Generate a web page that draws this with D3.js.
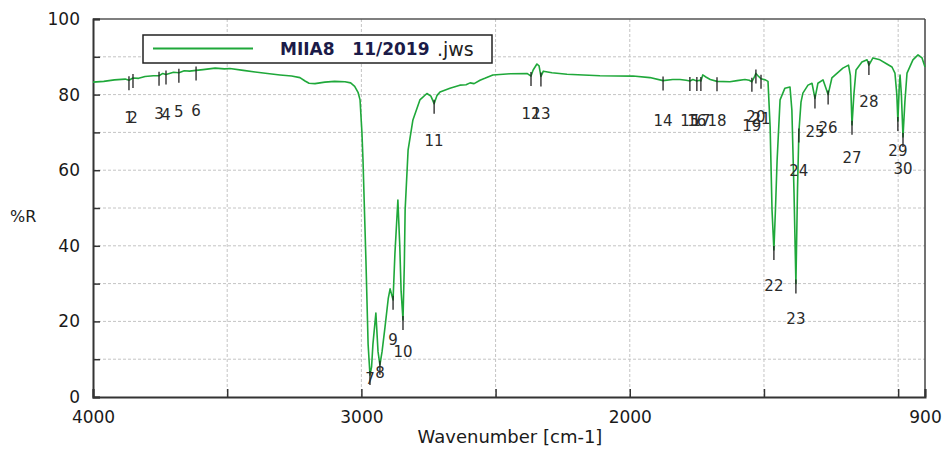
<!DOCTYPE html>
<html>
<head>
<meta charset="utf-8">
<script src="https://cdn.jsdelivr.net/npm/d3@7"></script>
<style>
  body { margin: 0; background: #fff; }
  text { font-family: "DejaVu Sans", sans-serif; }
</style>
</head>
<body>
<div id="chart"></div>
<script>
// spectrum: wavenumber [cm-1] and %R
const wavenumbers = [4000,3960,3920,3880,3866,3851,3830,3806,3775,3754,3740,3728,3700,3680,3660,3640,3616,3590,3545,3510,3490,3440,3396,3350,3303,3260,3229,3210,3195,3173,3136,3100,3061,3040,3025,3012,3005,2998,2994,2988,2983,2975,2968,2962,2957,2946,2938,2931,2923,2912,2900,2893,2882,2875,2864,2857,2852,2845,2840,2837,2826,2808,2782,2756,2741,2729,2718,2707,2670,2633,2610,2595,2580,2558,2540,2510,2446,2383,2368,2360,2346,2338,2331,2322,2290,2234,2111,1988,1925,1876,1840,1813,1790,1776,1765,1750,1740,1735,1728,1715,1700,1675,1627,1600,1571,1555,1545,1536,1530,1520,1511,1495,1485,1477,1470,1463,1457,1451,1440,1422,1403,1396,1388,1381,1375,1370,1362,1355,1336,1321,1310,1299,1280,1261,1247,1206,1185,1178,1172,1165,1157,1135,1116,1109,1094,1068,1042,1023,1012,1005,1001,996,993,988,982,975,967,945,926,911,900];
const reflect = [83.3,83.5,83.9,84.1,83.8,84.4,84.3,84.8,85.0,85.0,85.6,85.3,85.9,85.8,86.3,86.2,86.4,86.6,87.0,86.8,86.9,86.4,86.0,85.6,85.2,84.9,84.5,83.6,83.0,82.9,83.3,83.5,83.4,83.1,82.2,80.5,78.6,70,62.7,48,36,14,5.8,8,14,22.2,12,8.5,12,18.5,26,28.6,25.7,38,52.1,40,28,20.4,35,49.5,65.3,73.3,78.6,80.3,79.6,77.6,79.8,80.7,81.7,82.5,82.6,83.1,82.9,83.8,84.3,85.2,85.5,85.6,84.9,86.5,88.1,87.6,84.8,86.2,85.8,85.4,85.0,84.9,84.5,83.7,84.0,84.0,83.8,83.6,84.0,83.6,83.8,83.6,85.2,84.6,84.0,83.5,83.4,83.7,84.0,83.8,83.4,84.6,85.6,84.8,84.2,83.9,83.5,71.4,49.5,38.9,50,62.7,78.6,81.7,82.0,75.9,54,30,55,70,78,80.4,82.5,83,79,83,83.9,80,84.4,87,87.8,85,72,80,86.5,88.6,89.2,87.8,89.7,89.2,88.1,87.3,85.7,80,73,82,85.2,80,68.8,78,85.7,89.2,90.5,89.7,87.3];

// picked peaks: position and where the number sits (%R)
const peakWn = [3866,3851,3754,3728,3680,3616,2968,2931,2882,2845,2729,2368,2331,1876,1776,1750,1735,1675,1545,1530,1511,1463,1381,1370,1310,1261,1172,1109,1001,982];
const peakLabelR = [74.1,74.1,75.1,74.9,75.7,75.9,5.0,6.6,15.3,12.2,68.0,75.1,75.1,73.3,73.3,73.3,73.3,73.3,72.0,74.3,73.8,29.6,20.9,60.1,70.4,71.4,63.5,78.3,65.3,60.6];

const xTicks = [4000,3500,3000,2500,2000,1500,1000,900];
const xLabels = [4000,3000,2000,900];
const xGrid = [3500,3000,2500,2000,1500,1000];
const yTicks = [0,10,20,30,40,50,60,70,80,90,100];
const yLabels = [0,20,40,60,80,100];

const width = 946, height = 451;
const svg = d3.select('#chart').append('svg').attr('width', width).attr('height', height);

const x = d3.scaleLinear().domain([4000, 900]).range([93, 925]);
const y = d3.scaleLinear().domain([0, 100]).range([397, 19]);

// grid
svg.append('g').selectAll('line').data(xGrid).enter().append('line')
    .attr('x1', d => x(d)).attr('x2', d => x(d)).attr('y1', y(0)).attr('y2', y(100))
    .attr('stroke', '#c4c4c4').attr('stroke-dasharray', '3,2');
svg.append('g').selectAll('line').data(yTicks.slice(1, -1)).enter().append('line')
    .attr('x1', x(4000)).attr('x2', x(900)).attr('y1', d => y(d)).attr('y2', d => y(d))
    .attr('stroke', '#c4c4c4').attr('stroke-dasharray', '3,2');

// frame
svg.append('line').attr('x1', x(4000)).attr('x2', x(900)).attr('y1', y(100)).attr('y2', y(100))
    .attr('stroke', '#555').attr('stroke-width', 1.3);
svg.append('line').attr('x1', x(900)).attr('x2', x(900)).attr('y1', y(100)).attr('y2', y(0))
    .attr('stroke', '#444').attr('stroke-width', 1.5);

// axes, ticks inward
const xAxis = svg.append('g').attr('transform', `translate(0,${y(0)})`)
    .call(d3.axisBottom(x).tickValues(xTicks).tickSize(-8).tickPadding(14)
        .tickFormat(d => xLabels.includes(d) ? d : ''));
const yAxis = svg.append('g').attr('transform', `translate(${x(4000)},0)`)
    .call(d3.axisLeft(y).tickValues(yTicks).tickSize(-7).tickPadding(13)
        .tickFormat(d => yLabels.includes(d) ? d : ''));
[xAxis, yAxis].forEach(a => {
    a.select('.domain').attr('stroke', '#333').attr('stroke-width', 2);
    a.selectAll('.tick line').attr('stroke', '#333').attr('stroke-width', 1.5);
    a.selectAll('.tick text').attr('fill', '#1a1a1a').style('font-size', '17px');
});

svg.append('text').attr('x', 510).attr('y', 443).attr('text-anchor', 'middle')
    .attr('fill', '#1a1a1a').style('font-size', '18px').text('Wavenumber [cm-1]');
svg.append('text').attr('x', 10).attr('y', 222)
    .attr('fill', '#1a1a1a').style('font-size', '16px').text('%R');

// spectrum
const pts = wavenumbers.map((w, i) => [w, reflect[i]]);
svg.append('path').datum(pts)
    .attr('fill', 'none').attr('stroke', '#1fa83a').attr('stroke-width', 1.6)
    .attr('stroke-linejoin', 'round')
    .attr('d', d3.line().x(d => x(d[0])).y(d => y(d[1])));

// %R of the curve at a peak position
const asc = pts.slice().reverse();
const bis = d3.bisector(d => d[0]).left;
function curveAt(w) {
    const i = Math.max(1, Math.min(asc.length - 1, bis(asc, w)));
    const a = asc[i - 1], b = asc[i];
    return a[1] + (b[1] - a[1]) * (w - a[0]) / (b[0] - a[0]);
}

const peaks = peakWn.map((w, i) => ({ n: i + 1, w: w, r: curveAt(w), lr: peakLabelR[i] }));
const pg = svg.append('g');
pg.selectAll('line').data(peaks).enter().append('line')
    .attr('x1', d => x(d.w)).attr('x2', d => x(d.w))
    .attr('y1', d => y(d.r) - 4).attr('y2', d => y(d.r) + 10)
    .attr('stroke', '#222').attr('stroke-width', 1.3);
pg.selectAll('text').data(peaks).enter().append('text')
    .attr('x', d => x(d.w)).attr('y', d => y(d.lr) + 6)
    .attr('text-anchor', 'middle').attr('fill', '#2a2a2a').style('font-size', '15px')
    .text(d => d.n);

// legend
const lg = svg.append('g');
lg.append('rect').attr('x', 143).attr('y', 35).attr('width', 349).attr('height', 28)
    .attr('fill', '#fff').attr('stroke', '#222').attr('stroke-width', 1.5);
lg.append('line').attr('x1', 153).attr('x2', 253).attr('y1', 48.5).attr('y2', 48.5)
    .attr('stroke', '#1fa83a').attr('stroke-width', 2);
lg.append('text').attr('x', 280).attr('y', 55).attr('fill', '#1b1b48')
    .style('font-size', '17px').style('font-weight', 'bold').attr('xml:space', 'preserve')
    .text('MIIA8   11/2019');
lg.append('text').attr('x', 437).attr('y', 56).attr('fill', '#222')
    .style('font-size', '19px').text('.jws');
</script>
</body>
</html>
